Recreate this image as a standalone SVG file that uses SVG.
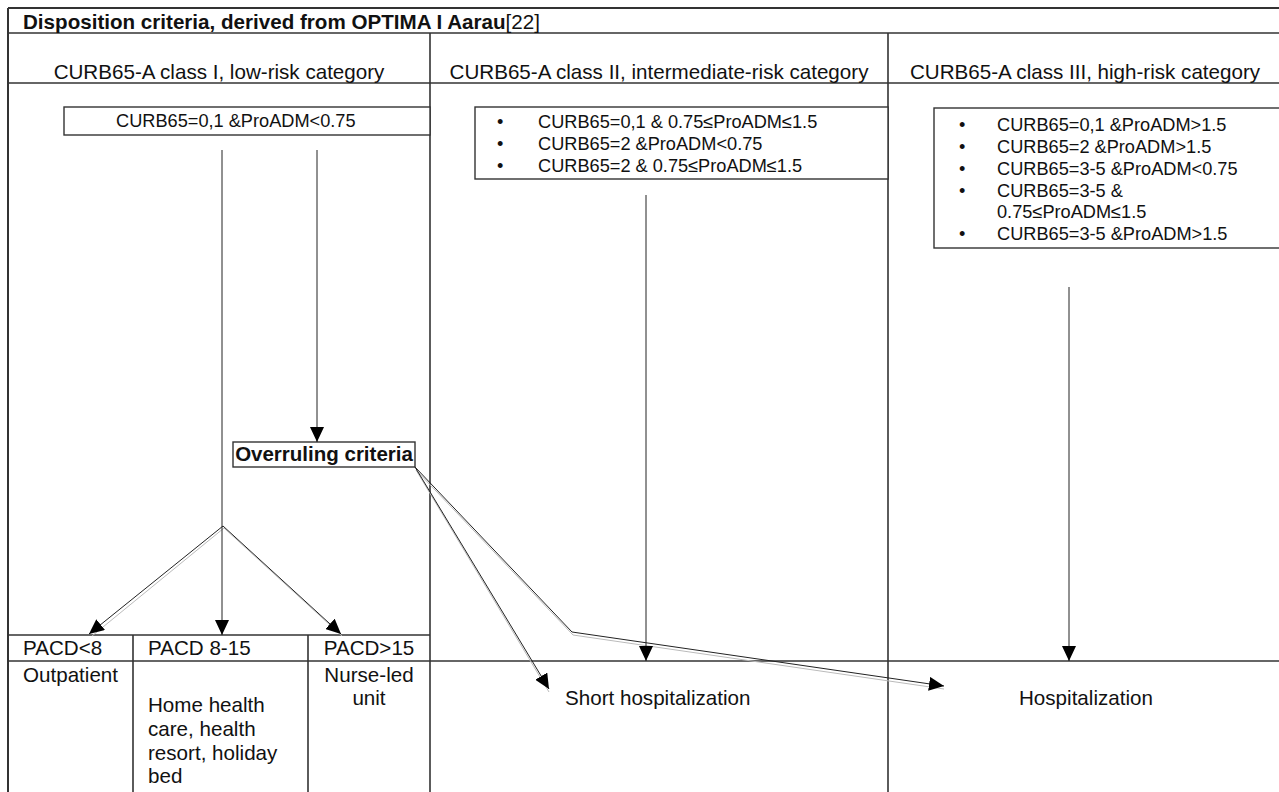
<svg xmlns="http://www.w3.org/2000/svg" width="1279" height="792" viewBox="0 0 1279 792">
<style>
text{font-family:"Liberation Sans",Arial,sans-serif;fill:#111}
.t{font-size:20.6px}
.b{font-size:18.2px}
.bold{font-weight:bold}
.grid{stroke:#333;stroke-width:1.6;fill:none}
.box{stroke:#333;stroke-width:1.4;fill:#fff}
.ln{stroke:#222;stroke-width:1;fill:none}
.sh{stroke:#bbb;stroke-width:1;fill:none}
.mid{text-anchor:middle}
</style>
<defs>
<marker id="ah" markerUnits="userSpaceOnUse" markerWidth="16" markerHeight="14" refX="15" refY="7" orient="auto">
<path d="M0,0 L15,7 L0,14 z" fill="#000"/>
</marker>
</defs>
<rect width="1279" height="792" fill="#fff"/>
<g id="table" class="grid">
<line x1="8" y1="8" x2="1285" y2="8" stroke-width="2"/>
<line x1="8" y1="33" x2="1285" y2="33"/>
<line x1="8" y1="83" x2="1285" y2="83"/>
<line x1="8" y1="8" x2="8" y2="792" stroke-width="2"/>
<line x1="430" y1="33" x2="430" y2="792"/>
<line x1="888" y1="33" x2="888" y2="792"/>
<line x1="8" y1="635" x2="430" y2="635"/>
<line x1="8" y1="661" x2="1285" y2="661"/>
<line x1="133" y1="635" x2="133" y2="792"/>
<line x1="308" y1="635" x2="308" y2="792"/>
</g>
<g id="title">
<text x="23" y="29" class="bold" font-size="20.6">Disposition criteria, derived from OPTIMA I Aarau<tspan font-weight="normal">[22]</tspan></text>
</g>
<g id="header1"><text x="219" y="79" class="t mid">CURB65-A class I, low-risk category</text></g>
<g id="header2"><text x="659" y="79" class="t mid">CURB65-A class II, intermediate-risk category</text></g>
<g id="header3"><text x="1085" y="79" class="t mid">CURB65-A class III, high-risk category</text></g>
<g id="box1">
<rect x="64" y="107" width="366" height="28" class="box"/>
<text x="116" y="127" class="b">CURB65=0,1 &amp;ProADM&lt;0.75</text>
</g>
<g id="box2">
<rect x="475" y="107" width="413" height="72" class="box"/>
<text class="b"><tspan x="497" y="128">•</tspan><tspan x="538" y="128">CURB65=0,1 &amp; 0.75≤ProADM≤1.5</tspan><tspan x="497" y="150">•</tspan><tspan x="538" y="150">CURB65=2 &amp;ProADM&lt;0.75</tspan><tspan x="497" y="172">•</tspan><tspan x="538" y="172">CURB65=2 &amp; 0.75≤ProADM≤1.5</tspan></text>
</g>
<g id="box3">
<rect x="934" y="108" width="352" height="140" class="box"/>
<text class="b"><tspan x="959" y="131">•</tspan><tspan x="997" y="131">CURB65=0,1 &amp;ProADM&gt;1.5</tspan><tspan x="959" y="153">•</tspan><tspan x="997" y="153">CURB65=2 &amp;ProADM&gt;1.5</tspan><tspan x="959" y="175">•</tspan><tspan x="997" y="175">CURB65=3-5 &amp;ProADM&lt;0.75</tspan><tspan x="959" y="197">•</tspan><tspan x="997" y="197">CURB65=3-5 &amp;</tspan><tspan x="997" y="218">0.75≤ProADM≤1.5</tspan><tspan x="959" y="240">•</tspan><tspan x="997" y="240">CURB65=3-5 &amp;ProADM&gt;1.5</tspan></text>
</g>
<g id="overruling">
<rect x="233" y="442" width="182" height="25" class="box"/>
<text x="324" y="461" class="bold mid" font-size="20.5">Overruling criteria</text>
</g>
<g id="pacd1">
<text x="23" y="655" class="t">PACD&lt;8</text>
<text x="23" y="682" class="t">Outpatient</text>
</g>
<g id="pacd2">
<text x="148" y="655" class="t">PACD 8-15</text>
<text class="t"><tspan x="148" y="712">Home health</tspan><tspan x="148" y="736">care, health</tspan><tspan x="148" y="760">resort, holiday</tspan><tspan x="148" y="783">bed</tspan></text>
</g>
<g id="pacd3">
<text x="369" y="655" class="t mid">PACD&gt;15</text>
<text class="t mid"><tspan x="369" y="682">Nurse-led</tspan><tspan x="369" y="705">unit</tspan></text>
</g>
<g id="short"><text x="565" y="705" class="t">Short hospitalization</text></g>
<g id="hosp"><text x="1019" y="705" class="t">Hospitalization</text></g>
<g id="connectors">
<polyline class="sh" points="224,528 92,636"/>
<polyline class="sh" points="224,528 342,636"/>
<polyline class="sh" points="416,470 549,692"/>
<polyline class="sh" points="416,470 573,635 944,689"/>
<line class="ln" x1="222" y1="150" x2="222" y2="635" marker-end="url(#ah)"/>
<line class="ln" x1="317" y1="150" x2="317" y2="442" marker-end="url(#ah)"/>
<line class="ln" x1="223" y1="526" x2="89" y2="634" marker-end="url(#ah)"/>
<line class="ln" x1="223" y1="526" x2="341" y2="634" marker-end="url(#ah)"/>
<line class="ln" x1="415" y1="467" x2="549" y2="689" marker-end="url(#ah)"/>
<polyline class="ln" points="415,467 572,632 944,686" marker-end="url(#ah)"/>
<line class="ln" x1="646" y1="195" x2="646" y2="661" marker-end="url(#ah)"/>
<line class="ln" x1="1069" y1="287" x2="1069" y2="661" marker-end="url(#ah)"/>
</g>
</svg>
